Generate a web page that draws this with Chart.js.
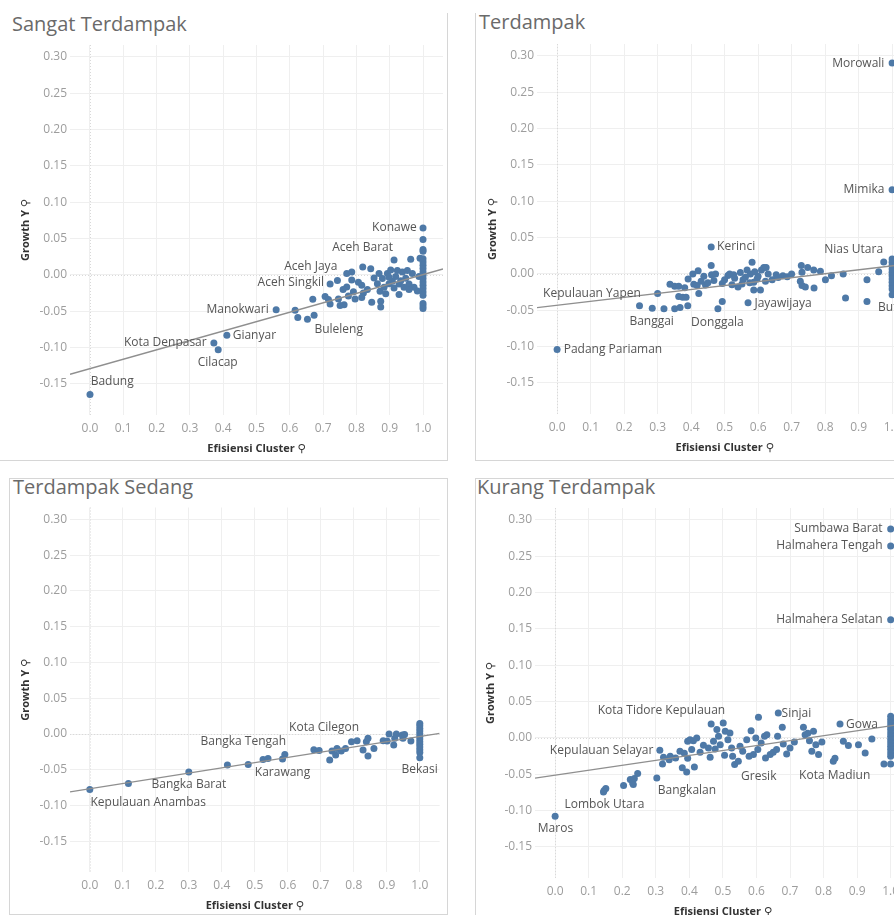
<!DOCTYPE html>
<html><head><meta charset="utf-8">
<script src="https://cdn.jsdelivr.net/npm/chart.js@4.4.1/dist/chart.umd.min.js"></script>
<style>
html,body{margin:0;padding:0;width:894px;height:915px;overflow:hidden;background:#fff;position:relative}
canvas{position:absolute}
.t{position:absolute;font-family:'Open Sans',sans-serif;font-size:20px;line-height:20px;color:#6a6a6a;white-space:nowrap}
.b{position:absolute;background:#d6d6d6}
</style></head><body>
<div class="b" style="left:447px;top:13px;width:1px;height:448px"></div>
<div class="b" style="left:0;top:460px;width:448px;height:1px"></div>
<div class="b" style="left:475px;top:13px;width:1px;height:448px"></div>
<div class="b" style="left:475px;top:460px;width:419px;height:1px"></div>
<div class="b" style="left:9px;top:478px;width:438px;height:1px"></div>
<div class="b" style="left:9px;top:478px;width:1px;height:437px"></div>
<div class="b" style="left:447px;top:478px;width:1px;height:437px"></div>
<div class="b" style="left:9px;top:914px;width:438px;height:1px"></div>
<div class="b" style="left:475px;top:478px;width:419px;height:1px"></div>
<div class="b" style="left:475px;top:478px;width:1px;height:437px"></div>
<div class="t" style="left:12px;top:14px">Sangat Terdampak</div>
<div class="t" style="left:479px;top:12px">Terdampak</div>
<div class="t" style="left:13px;top:477px">Terdampak Sedang</div>
<div class="t" style="left:477px;top:477px">Kurang Terdampak</div>
<script>
// ---------- DATA ----------
const xTicksLabel = 'Efisiensi Cluster';
const yTicksLabel = 'Growth Y';

// Sangat Terdampak
const sangatX = [0,0.372,0.385,0.411,0.559,0.616,0.624,0.653,0.673,0.669,0.721,0.743,0.706,0.716,0.721,0.746,0.751,0.763,0.771,0.771,0.786,0.786,0.791,0.776,0.796,0.819,0.816,0.821,0.816,0.843,0.846,0.853,0.868,0.871,0.873,0.873,0.883,0.888,0.893,0.903,0.913,0.908,0.918,0.928,0.928,0.938,0.943,0.948,0.958,0.963,0.968,0.973,0.983,0.991,0.988,0.878,0.898,0.913,0.923,0.933,0.953,0.958,0.898,0.863,0.833,0.806,0.760,
  1,1,1,1,1,1,1,1,1,1,1,1,1,1,1,1,1,1,1];
const sangatY = [-0.1646,-0.0936,-0.103,-0.083,-0.048,-0.0486,-0.0585,-0.061,-0.0555,-0.0335,-0.0125,-0.0075,-0.0297,-0.0338,-0.040,-0.033,-0.042,-0.041,-0.0165,0.002,0.004,-0.007,-0.023,-0.029,-0.033,0.011,-0.014,-0.0247,-0.031,0.0085,-0.0376,-0.004,0.002,-0.0225,-0.036,-0.044,-0.017,-0.026,0.002,0.007,0.0205,-0.0085,-0.002,-0.027,-0.0125,0.004,-0.017,-0.0045,-0.0125,0.0215,0.002,-0.017,-0.022,0.023,-0.002,-0.005,-0.012,-0.018,0.006,-0.008,0.006,-0.020,-0.003,-0.012,-0.020,-0.010,-0.020,
  0.0647,0.0487,0.035,0.0326,0.0225,0.0179,0.0133,0.0088,0.0041,-0.0004,-0.005,-0.0096,-0.0142,-0.0187,-0.0234,-0.028,-0.0394,-0.0426,-0.0463];
const sangatTrendX = [-0.06, 1.06];
const sangatTrendY = [-0.1366, 0.0083];
const sangatLabelText = ['Konawe','Aceh Barat','Aceh Jaya','Aceh Singkil','Manokwari','Buleleng','Gianyar','Kota Denpasar','Cilacap','Badung'];
const sangatLabelX = [0.981,0.910,0.7426,0.7027,0.5366,0.674,0.4285,0.3504,0.3233,0.002];
const sangatLabelY = [0.0647,0.0372,0.012,-0.011,-0.0482,-0.0747,-0.083,-0.0936,-0.1206,-0.1472];

// Terdampak
const terX = [0.0,0.46,0.30,0.246,0.284,0.319,0.351,0.367,0.39,0.363,0.375,0.385,0.337,0.351,0.363,0.381,0.391,0.405,0.421,0.408,0.418,0.423,0.438,0.443,0.46,0.461,0.468,0.473,0.48,0.493,0.493,0.51,0.522,0.527,0.54,0.547,0.552,0.562,0.567,0.57,0.577,0.582,0.587,0.587,0.597,0.607,0.61,0.617,0.624,0.622,0.642,0.654,0.674,0.687,0.729,0.731,0.726,0.731,0.741,0.748,0.766,0.767,0.786,0.801,0.819,0.854,0.861,0.925,0.925,0.96,0.975,0.50,0.53,0.555,0.575,0.60,0.63,0.45,0.43,0.515,0.59,0.66,0.70,
  1,1,1,1,1,1,1,1,1,1,1,1,1];
const terY = [-0.1039,0.0372,-0.0267,-0.0437,-0.047,-0.0478,-0.048,-0.046,-0.0437,-0.031,-0.032,-0.032,-0.014,-0.017,-0.017,-0.019,-0.007,0.0,0.0046,-0.014,-0.016,-0.027,-0.003,-0.015,0.0115,-0.001,-0.009,0.0,-0.048,-0.038,-0.013,-0.002,-0.0147,-0.001,-0.018,0.002,-0.0138,-0.0046,0.0055,-0.0395,0.0,0.016,-0.0115,-0.022,-0.007,-0.022,0.0055,0.009,0.009,-0.010,-0.008,-0.001,-0.0023,-0.0037,0.0115,0.0023,-0.010,-0.016,-0.018,0.009,0.0055,-0.0193,0.0037,-0.008,-0.0023,0.0,-0.033,-0.008,-0.038,0.003,0.0165,-0.008,-0.006,-0.008,-0.012,-0.003,0.0,-0.012,-0.010,0.0,0.003,-0.005,0.0,
  0.2904,0.1158,0.0207,0.0161,0.0115,0.0069,0.0023,-0.0023,-0.0069,-0.0115,-0.0161,-0.0207,-0.0285];
const terTrendX = [-0.06, 1.06];
const terTrendY = [-0.0463, 0.0144];
const terLabelText = ['Morowali','Mimika','Kerinci','Nias Utara','Kepulauan Yapen','Banggai','Donggala','Jayawijaya','Padang Pariaman','Buton'];
const terLabelX = [0.977,0.977,0.4776,0.973,-0.0418,0.2158,0.40,0.589,0.0197,0.958];
const terLabelY = [0.290,0.1158,0.0372,0.034,-0.0276,-0.0653,-0.0662,-0.0405,-0.1044,-0.046];

// Terdampak Sedang
const sedangX = [0,0.117,0.30,0.417,0.48,0.525,0.54,0.584,0.591,0.679,0.695,0.727,0.734,0.745,0.749,0.762,0.775,0.793,0.81,0.828,0.838,0.843,0.843,0.861,0.889,0.901,0.907,0.921,0.924,0.929,0.947,0.949,0.954,0.973,
  1,1,1,1,1,1,1,1,1,1,1,1,1];
const sedangY = [-0.0773,-0.069,-0.053,-0.0433,-0.0424,-0.0354,-0.034,-0.035,-0.0284,-0.0219,-0.0228,-0.0363,-0.0238,-0.0293,-0.020,-0.0238,-0.020,-0.0107,-0.0093,-0.0224,-0.0107,-0.006,-0.0307,-0.020,-0.0093,-0.0098,0.0,-0.0154,-0.006,0.0,-0.0014,-0.006,-0.0005,-0.0098,
  0.0149,0.0116,0.0079,0.0042,0.0005,-0.0033,-0.007,-0.0107,-0.0144,-0.0182,-0.0219,-0.0256,-0.0331];
const sedangTrendX = [-0.06, 1.06];
const sedangTrendY = [-0.0808, 0.0009];
const sedangLabelText = ['Kepulauan Anambas','Bangka Barat','Bangka Tengah','Karawang','Kota Cilegon','Bekasi'];
const sedangLabelX = [0.002,0.187,0.3354,0.50,0.604,0.9445];
const sedangLabelY = [-0.0959,-0.0712,-0.0107,-0.0535,0.0088,-0.0503];

// Kurang Terdampak
const kurangX = [0,0.146,0.151,0.144,0.204,0.224,0.231,0.236,0.233,0.246,0.303,0.312,0.32,0.323,0.34,0.343,0.359,0.372,0.379,0.385,0.392,0.395,0.395,0.402,0.407,0.412,0.415,0.422,0.432,0.442,0.457,0.462,0.465,0.472,0.477,0.482,0.487,0.492,0.501,0.505,0.507,0.515,0.521,0.526,0.529,0.535,0.546,0.551,0.559,0.571,0.578,0.584,0.591,0.598,0.604,0.606,0.614,0.624,0.627,0.631,0.641,0.65,0.66,0.663,0.665,0.677,0.68,0.69,0.70,0.713,0.74,0.745,0.753,0.758,0.765,0.77,0.777,0.785,0.795,0.829,0.834,0.849,0.859,0.874,0.904,0.924,0.944,0.98,
  1,1,1,1,1,1,1,1,1,1,1,1,1,1,1,1,1];
const kurangY = [-0.1077,-0.0724,-0.0696,-0.0745,-0.0655,-0.0573,-0.0618,-0.0559,-0.064,-0.049,-0.055,-0.017,-0.0357,-0.0266,-0.030,-0.0252,-0.0275,-0.0183,-0.041,-0.021,-0.0467,-0.028,-0.0046,-0.0023,-0.016,-0.0037,-0.040,0.0,-0.0197,-0.010,-0.0137,-0.0266,0.0192,-0.0046,-0.015,0.0115,0.0023,-0.0092,0.0206,-0.0238,0.0092,-0.0023,0.0069,-0.0137,-0.025,-0.0366,-0.032,-0.0115,-0.0183,-0.0023,-0.025,0.0101,-0.0229,0.0,-0.016,0.0284,-0.0069,0.0023,-0.0275,0.0046,-0.0229,-0.0197,-0.016,0.0023,0.0344,0.0147,-0.0082,-0.022,-0.0137,-0.0055,0.0147,0.0046,0.0064,-0.0037,-0.0183,0.0092,-0.0092,-0.0229,-0.0055,-0.032,-0.028,0.0192,-0.0046,-0.0105,-0.0092,-0.0206,-0.0014,-0.0357,
  0.2877,0.2643,0.1626,0.0298,0.0252,0.0206,0.016,0.0115,0.0069,0.0023,-0.0023,-0.0069,-0.0115,-0.016,-0.0206,-0.0252,-0.0357];
const kurangTrendX = [-0.06, 1.06];
const kurangTrendY = [-0.0552, 0.0208];
const kurangLabelText = ['Sumbawa Barat','Halmahera Tengah','Halmahera Selatan','Kota Tidore Kepulauan','Sinjai','Gowa','Kepulauan Selayar','Bangkalan','Gresik','Kota Madiun','Lombok Utara','Maros'];
const kurangLabelX = [0.976,0.976,0.976,0.127,0.675,0.867,0.293,0.306,0.554,0.727,0.0278,-0.0516];
const kurangLabelY = [0.2877,0.2643,0.1626,0.0376,0.0334,0.0183,-0.0169,-0.0724,-0.0527,-0.0513,-0.0916,-0.125];
// text alignment of each label: 'r' = text ends at anchor, 'l' = text starts at anchor
const sangatLabelAlign = ['r','r','r','r','r','l','l','r','l','l'];
const terLabelAlign = ['r','r','l','r','l','l','l','l','l','l'];
const sedangLabelAlign = ['l','l','l','l','l','l'];
const kurangLabelAlign = ['r','r','r','l','l','l','r','l','l','l','l','l'];

// ---------- CHARTS ----------
const X_MIN = -0.06, X_MAX = 1.06, Y_MIN = -0.1927, Y_MAX = 0.3165;
const FONT = "'Open Sans', 'DejaVu Sans', sans-serif";
const PIN = ' \u26B2';

const zeroLines = {
  id: 'zeroLines',
  beforeDatasetsDraw(chart) {
    const {ctx, chartArea: a, scales: {x, y}} = chart;
    ctx.save();
    ctx.strokeStyle = '#d9d9d9';
    ctx.lineWidth = 1;
    ctx.setLineDash([1, 2]);
    const px = Math.round(x.getPixelForValue(0)) + 0.5;
    const py = Math.round(y.getPixelForValue(0)) + 0.5;
    ctx.beginPath();
    ctx.moveTo(px, a.top); ctx.lineTo(px, a.bottom);
    ctx.moveTo(a.left, py); ctx.lineTo(a.right, py);
    ctx.stroke();
    ctx.restore();
  }
};

function labelPlugin(texts, lx, ly, al) {
  return {
    id: 'ptLabels',
    afterDatasetsDraw(chart) {
      const {ctx, scales: {x, y}} = chart;
      ctx.save();
      ctx.font = '12px ' + FONT;
      ctx.fillStyle = '#555555';
      ctx.textBaseline = 'middle';
      texts.forEach((t, i) => {
        ctx.textAlign = al[i] === 'r' ? 'right' : 'left';
        ctx.fillText(t, x.getPixelForValue(lx[i]), y.getPixelForValue(ly[i]));
      });
      ctx.restore();
    }
  };
}

function fmt(v, d) { if (Math.abs(v) < 1e-9) v = 0; return v.toFixed(d); }

function panel(g, xs, ys, tx, ty, lt, lx, ly, la) {
  const c = document.createElement('canvas');
  c.width = g.w; c.height = g.h;
  c.style.left = g.left + 'px'; c.style.top = g.top + 'px';
  c.style.width = g.w + 'px'; c.style.height = g.h + 'px';
  document.body.appendChild(c);
  const pts = xs.map((v, i) => ({x: v, y: ys[i]}));
  const trend = tx.map((v, i) => ({x: v, y: ty[i]}));
  new Chart(c, {
    type: 'scatter',
    data: {datasets: [
      {data: trend, showLine: true, borderColor: '#8f8f8f', borderWidth: 1.4, pointRadius: 0, order: 0},
      {data: pts, backgroundColor: '#4e79a7', borderWidth: 0, pointRadius: 3.5, order: 1}
    ]},
    options: {
      responsive: false, animation: false, events: [],
      layout: {padding: {top: g.padTop, right: g.padRight, left: 0, bottom: 0}},
      plugins: {legend: {display: false}, tooltip: {enabled: false}},
      scales: {
        x: {
          type: 'linear', min: X_MIN, max: X_MAX,
          afterFit: s => { s.height = 40; },
          ticks: {stepSize: 0.1, includeBounds: false, maxTicksLimit: 30, padding: 6, color: '#9d9d9d',
                  font: {family: FONT, size: 12}, callback: v => fmt(v, 1), maxRotation: 0, autoSkip: false},
          grid: {color: '#efefef', drawTicks: false},
          border: {display: false},
          title: {display: true, text: xTicksLabel + PIN, color: '#333', font: {family: FONT, size: 11, weight: 'bold'}, padding: {top: 0, bottom: 0}}
        },
        y: {
          type: 'linear', min: Y_MIN, max: Y_MAX,
          afterFit: s => { s.width = 70; },
          ticks: {stepSize: 0.05, includeBounds: false, maxTicksLimit: 30, padding: 3, color: '#9d9d9d',
                  font: {family: FONT, size: 12}, callback: v => fmt(v, 2), autoSkip: false},
          grid: {color: '#efefef', drawTicks: false},
          border: {display: false},
          title: {display: true, text: yTicksLabel + PIN, color: '#333', font: {family: FONT, size: 11, weight: 'bold'}, padding: {top: 19, bottom: 0}}
        }
      }
    },
    plugins: [zeroLines, labelPlugin(lt, lx, ly, la)]
  });
}

panel({left: 0, top: 0, w: 447, h: 455, padTop: 45, padRight: 4},
  sangatX, sangatY, sangatTrendX, sangatTrendY, sangatLabelText, sangatLabelX, sangatLabelY, sangatLabelAlign);
panel({left: 467, top: 0, w: 450, h: 454, padTop: 44, padRight: 4.8},
  terX, terY, terTrendX, terTrendY, terLabelText, terLabelX, terLabelY, terLabelAlign);
panel({left: 0, top: 462, w: 447, h: 450, padTop: 45.5, padRight: 7.4},
  sedangX, sedangY, sedangTrendX, sedangTrendY, sedangLabelText, sedangLabelX, sedangLabelY, sedangLabelAlign);
panel({left: 465, top: 463, w: 450, h: 455, padTop: 45, padRight: 4.2},
  kurangX, kurangY, kurangTrendX, kurangTrendY, kurangLabelText, kurangLabelX, kurangLabelY, kurangLabelAlign);
</script>
</body></html>
